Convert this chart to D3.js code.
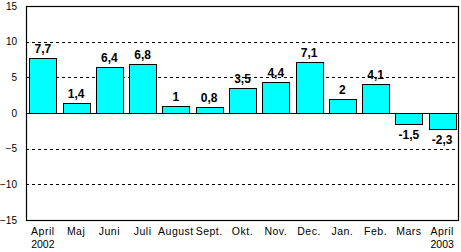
<!DOCTYPE html>
<html><head><meta charset="utf-8">
<script src="https://cdn.jsdelivr.net/npm/d3@7"></script>
<style>body{margin:0;background:#fff}svg{display:block}</style>
</head><body>
<script>
const months = ["April","Maj","Juni","Juli","August","Sept.","Okt.","Nov.","Dec.","Jan.","Feb.","Mars","April"];
const years = ["2002","","","","","","","","","","","","2003"];
const values = [7.7,1.4,6.4,6.8,1.0,0.8,3.5,4.4,7.1,2.0,4.1,-1.5,-2.3];
const labels = ["7,7","1,4","6,4","6,8","1","0,8","3,5","4,4","7,1","2","4,1","-1,5","-2,3"];
const yTicks = [15,10,5,0,-5,-10,-15];

const W=461,H=252;
const m={left:26,right:2,top:6,bottom:32};
const svg=d3.select("body").append("svg").attr("width",W).attr("height",H);
const x=d3.scaleBand().domain(d3.range(values.length)).range([m.left,W-m.right]).paddingInner(0.19).paddingOuter(0.1);
const y=d3.scaleLinear().domain([-15,15]).range([H-m.bottom,m.top]);

// gridlines
svg.append("g").selectAll("line").data(yTicks.filter(d=>d!==0&&Math.abs(d)!==15)).join("line")
 .attr("x1",m.left).attr("x2",W-m.right).attr("y1",d=>Math.round(y(d))+0.5).attr("y2",d=>Math.round(y(d))+0.5)
 .attr("stroke","#000").attr("stroke-dasharray","3,3");

// bars
svg.append("g").selectAll("rect").data(values).join("rect")
 .attr("x",(d,i)=>Math.round(x(i))+0.5).attr("width",Math.round(x.bandwidth()))
 .attr("y",d=>Math.round(y(Math.max(0,d)))+0.5).attr("height",d=>Math.abs(Math.round(y(d))-Math.round(y(0))))
 .attr("fill","#00ffff").attr("stroke","#000").attr("stroke-width",1);

// zero line
svg.append("line").attr("x1",m.left).attr("x2",W-m.right).attr("y1",Math.round(y(0))+0.5).attr("y2",Math.round(y(0))+0.5).attr("stroke","#000");

// frame
svg.append("rect").attr("x",m.left+0.5).attr("y",m.top+0.5).attr("width",W-m.right-m.left-1).attr("height",H-m.bottom-m.top)
 .attr("fill","none").attr("stroke","#000").attr("stroke-width",1.2);

// y axis labels
const yAxis=d3.axisLeft(y).tickValues(yTicks).tickSize(0).tickPadding(9).tickFormat(d3.format("d"));
const ga=svg.append("g").attr("transform",`translate(${m.left},0)`).call(yAxis);
ga.select(".domain").remove();
ga.selectAll("text").attr("font-family","Liberation Sans, Arial, sans-serif").attr("font-size",10).attr("fill","#000");

// value labels
svg.append("g").selectAll("text").data(values).join("text")
 .attr("x",(d,i)=>x(i)+x.bandwidth()/2)
 .attr("y",d=>d>=0?y(d)-5:y(d)+15)
 .attr("text-anchor","middle").attr("font-family","Liberation Sans, Arial, sans-serif").attr("font-weight","bold").attr("font-size",12)
 .text((d,i)=>labels[i]);

// x labels
const gx=svg.append("g");
gx.selectAll("text.m").data(months).join("text").attr("class","m")
 .attr("x",(d,i)=>x(i)+x.bandwidth()/2).attr("y",H-m.bottom+15)
 .attr("text-anchor","middle").attr("font-family","Liberation Sans, Arial, sans-serif").attr("font-size",10.5).attr("letter-spacing",0.5).text(d=>d);
gx.selectAll("text.yr").data(years).join("text").attr("class","yr")
 .attr("x",(d,i)=>x(i)+x.bandwidth()/2).attr("y",H-m.bottom+28)
 .attr("text-anchor","middle").attr("font-family","Liberation Sans, Arial, sans-serif").attr("font-size",10.5).text(d=>d);
</script>
</body></html>
